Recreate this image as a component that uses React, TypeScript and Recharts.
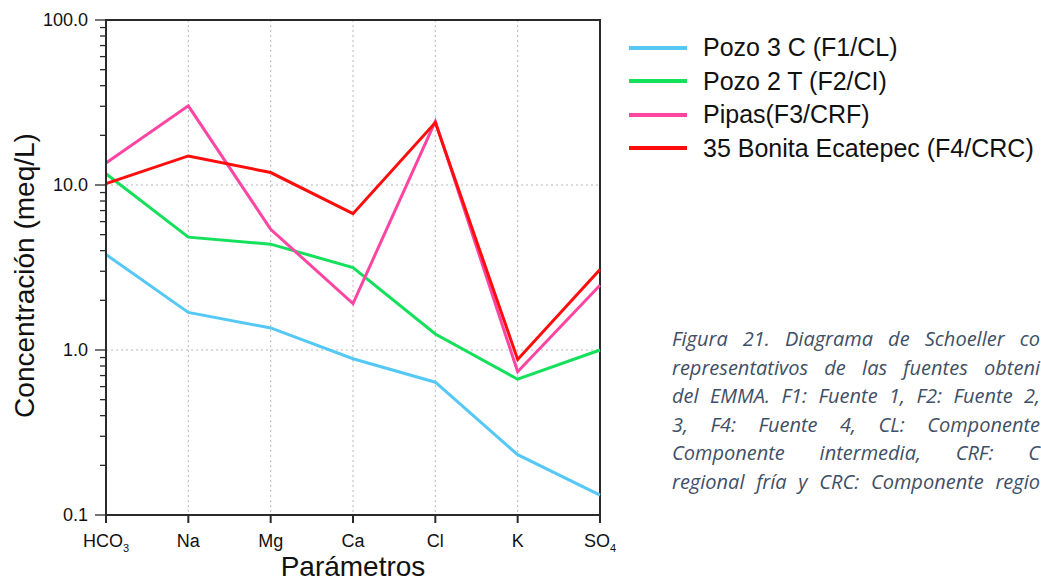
import {
  CartesianGrid,
  Label,
  Legend,
  Line,
  LineChart,
  ReferenceArea,
  ReferenceLine,
  XAxis,
  YAxis,
} from "recharts";

const PARAMS = ["HCO3", "Na", "Mg", "Ca", "Cl", "K", "SO4"];

const POZO_3C = [3.79, 1.69, 1.36, 0.885, 0.638, 0.232, 0.132];
const POZO_2T = [11.7, 4.83, 4.38, 3.16, 1.25, 0.665, 1.0];
const PIPAS = [13.6, 30.2, 5.39, 1.91, 24.3, 0.738, 2.47];
const BONITA = [10.2, 15.0, 11.9, 6.7, 23.9, 0.876, 3.08];

const MAJOR_TICKS = [0.1, 1, 10, 100];
const MINOR_TICKS = [
  0.2, 0.3, 0.4, 0.5, 0.6, 0.7, 0.8, 0.9,
  2, 3, 4, 5, 6, 7, 8, 9,
  20, 30, 40, 50, 60, 70, 80, 90,
];

const SERIES = [
  { key: "pozo3c", label: "Pozo 3 C (F1/CL)", color: "#55c8f5", values: POZO_3C },
  { key: "pozo2t", label: "Pozo 2 T (F2/CI)", color: "#14e05c", values: POZO_2T },
  { key: "pipas", label: "Pipas(F3/CRF)", color: "#ff45a2", values: PIPAS },
  { key: "bonita", label: "35 Bonita Ecatepec (F4/CRC)", color: "#ff0c0c", values: BONITA },
];

// only the part of the caption that is visible in the figure
const CAPTION = [
  "Figura 21. Diagrama de Schoeller co",
  "representativos de las fuentes obteni",
  "del EMMA. F1: Fuente 1, F2: Fuente 2,",
  "3, F4: Fuente 4, CL: Componente",
  "Componente intermedia, CRF: C",
  "regional fría y CRC: Componente regio",
];

const chartData = PARAMS.map((param, i) => {
  const row: Record<string, number | string> = { param };
  for (const s of SERIES) row[s.key] = s.values[i];
  return row;
});

const AXIS = "#2a2a2a";
const FONT = "'Liberation Sans', Arial, sans-serif";

function YTick(props: any) {
  const { x, y, payload } = props;
  const major = MAJOR_TICKS.includes(payload.value);
  return (
    <g>
      <line x1={x - (major ? 11 : 6)} x2={x} y1={y} y2={y} stroke={AXIS} strokeWidth={1.3} />
      {major && (
        <text x={x - 18} y={y + 6} textAnchor="end" fontSize={18} fill="#111" fontFamily={FONT}>
          {payload.value.toFixed(1)}
        </text>
      )}
    </g>
  );
}

function XTick(props: any) {
  const { x, y, payload } = props;
  const m = String(payload.value).match(/^(\D+)(\d*)$/);
  const base = m ? m[1] : payload.value;
  const sub = m ? m[2] : "";
  return (
    <text x={x} y={y + 22} textAnchor="middle" fontSize={18} fill="#111" fontFamily={FONT}>
      {base}
      {sub && (
        <tspan fontSize={11} dy={5}>
          {sub}
        </tspan>
      )}
    </text>
  );
}

function LegendBox() {
  return (
    <div style={{ fontFamily: FONT, fontSize: 25, color: "#111" }}>
      {SERIES.map((s) => (
        <div key={s.key} style={{ display: "flex", alignItems: "center", height: 33.5 }}>
          <span style={{ display: "inline-block", width: 58, height: 4, background: s.color, marginRight: 16 }} />
          <span style={{ whiteSpace: "nowrap" }}>{s.label}</span>
        </div>
      ))}
    </div>
  );
}

export default function App() {
  return (
    <div
      style={{
        position: "absolute",
        left: 0,
        top: 0,
        width: 1041,
        height: 584,
        overflow: "hidden",
        background: "#fff",
      }}
    >
      <LineChart
        width={1041}
        height={584}
        data={chartData}
        margin={{ top: 20, right: 441, bottom: 0, left: 0 }}
      >
        <CartesianGrid horizontal={false} stroke="#b8b8b8" strokeDasharray="2 3" />
        <ReferenceLine y={1} stroke="#b8b8b8" strokeDasharray="2 3" />
        <ReferenceLine y={10} stroke="#b8b8b8" strokeDasharray="2 3" />
        <XAxis
          dataKey="param"
          scale="point"
          padding={{ left: 0, right: 0 }}
          height={69}
          interval={0}
          stroke={AXIS}
          strokeWidth={2}
          tickSize={8}
          tick={<XTick />}
        >
          <Label
            content={(p: any) => {
              const vb = p.viewBox;
              return (
                <text
                  x={vb.x + vb.width / 2}
                  y={576}
                  textAnchor="middle"
                  fontSize={28}
                  fill="#111"
                  fontFamily={FONT}
                >
                  Parámetros
                </text>
              );
            }}
          />
        </XAxis>
        <YAxis
          scale="log"
          type="number"
          domain={[0.1, 100]}
          allowDataOverflow
          ticks={[...MAJOR_TICKS, ...MINOR_TICKS]}
          interval={0}
          width={106}
          stroke={AXIS}
          strokeWidth={2}
          tickSize={0}
          tickMargin={0}
          tickLine={false}
          tick={<YTick />}
        >
          <Label
            content={(p: any) => {
              const vb = p.viewBox;
              const cy = vb.y + vb.height / 2 + 8;
              return (
                <text
                  x={34}
                  y={cy}
                  transform={`rotate(-90, 34, ${cy})`}
                  textAnchor="middle"
                  fontSize={28}
                  fill="#111"
                  fontFamily={FONT}
                >
                  Concentración (meq/L)
                </text>
              );
            }}
          />
        </YAxis>
        <ReferenceArea
          x1="HCO3"
          x2="SO4"
          y1={0.1}
          y2={100}
          fill="none"
          stroke={AXIS}
          strokeWidth={2}
          ifOverflow="visible"
        />
        {SERIES.map((s) => (
          <Line
            key={s.key}
            type="linear"
            dataKey={s.key}
            name={s.label}
            stroke={s.color}
            strokeWidth={3}
            dot={false}
            activeDot={false}
            isAnimationActive={false}
          />
        ))}
        <Legend
          layout="horizontal"
          verticalAlign="middle"
          content={<LegendBox />}
          wrapperStyle={{ left: 629, top: 31, width: 410, height: 140 }}
        />
      </LineChart>
      <div
        style={{
          position: "absolute",
          left: 672,
          top: 325,
          width: 368,
          fontFamily: "'Open Sans', Lato, sans-serif",
          fontStyle: "italic",
          fontSize: 20,
          lineHeight: "28.5px",
          color: "#3f4f66",
        }}
      >
        {CAPTION.map((line, i) => (
          <div
            key={i}
            style={{
              whiteSpace: "nowrap",
              textAlign: "justify",
              textAlignLast: "justify",
            }}
          >
            {line}
          </div>
        ))}
      </div>
    </div>
  );
}
